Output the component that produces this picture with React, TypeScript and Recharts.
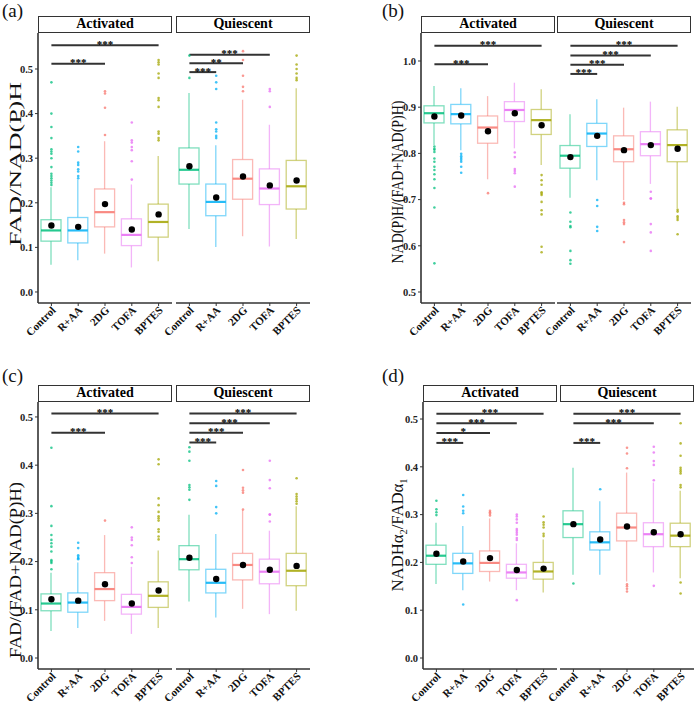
import React from 'react';
import { ComposedChart, Bar, Scatter, XAxis, YAxis, ReferenceLine } from 'recharts';

const FONT = '"Liberation Serif", "Times New Roman", serif';
const AX = '#333';

const groups = ['Control', 'R+AA', '2DG', 'TOFA', 'BPTES'];
const colors = ['#00BF7D', '#00B0F6', '#F8766D', '#E76BF3', '#A3A500'];

// box rows per group: [lower whisker, q1, median, q3, upper whisker, mean]
// (a) FAD/NAD(P)H
const aActBox = [
  [0.061, 0.114, 0.138, 0.162, 0.235, 0.149],
  [0.071, 0.11, 0.138, 0.167, 0.252, 0.146],
  [0.086, 0.146, 0.179, 0.231, 0.338, 0.197],
  [0.055, 0.104, 0.128, 0.164, 0.241, 0.14],
  [0.069, 0.123, 0.157, 0.197, 0.305, 0.174],
];
const aActOut = [
  [0.24, 0.245, 0.25, 0.255, 0.26, 0.265, 0.28, 0.3, 0.31, 0.315, 0.32, 0.345, 0.37, 0.4, 0.47],
  [0.255, 0.26, 0.27, 0.275, 0.285, 0.29, 0.315, 0.325],
  [0.352, 0.413, 0.445, 0.45],
  [0.252, 0.293, 0.318, 0.325, 0.335, 0.34, 0.38],
  [0.34, 0.345, 0.355, 0.36, 0.415, 0.43, 0.435, 0.48, 0.49, 0.51, 0.515, 0.52],
];
const aActSig = [['BPTES', 0.553, '***'], ['2DG', 0.512, '***']];

const aQuiBox = [
  [0.141, 0.242, 0.274, 0.323, 0.446, 0.282],
  [0.101, 0.171, 0.202, 0.242, 0.329, 0.212],
  [0.125, 0.208, 0.254, 0.297, 0.431, 0.259],
  [0.102, 0.196, 0.232, 0.276, 0.375, 0.239],
  [0.119, 0.186, 0.237, 0.295, 0.457, 0.25],
];
const aQuiOut = [
  [0.48, 0.53],
  [0.345, 0.35, 0.36, 0.365, 0.38, 0.455, 0.47, 0.485],
  [0.45, 0.46, 0.485, 0.52, 0.54],
  [0.415, 0.45, 0.455],
  [0.475, 0.48, 0.49, 0.5, 0.51, 0.53],
];
const aQuiSig = [['TOFA', 0.532, '***'], ['2DG', 0.513, '**'], ['R+AA', 0.493, '***']];

// (b) NAD(P)H/(FAD+NAD(P)H)
const bActBox = [
  [0.818, 0.866, 0.887, 0.903, 0.946, 0.88],
  [0.807, 0.864, 0.885, 0.906, 0.941, 0.882],
  [0.744, 0.822, 0.856, 0.881, 0.924, 0.848],
  [0.811, 0.869, 0.894, 0.912, 0.953, 0.887],
  [0.775, 0.841, 0.872, 0.895, 0.939, 0.861],
];
const bActOut = [
  [0.815, 0.81, 0.808, 0.803, 0.789, 0.782, 0.771, 0.764, 0.755, 0.744, 0.725, 0.683, 0.562],
  [0.799, 0.794, 0.79, 0.786, 0.782, 0.771, 0.758],
  [0.714],
  [0.802, 0.792, 0.766, 0.762, 0.757, 0.728],
  [0.753, 0.742, 0.732, 0.716, 0.713, 0.71, 0.695, 0.677, 0.668, 0.598, 0.586],
];
const bActSig = [['BPTES', 1.033, '***'], ['2DG', 0.993, '***']];

const bQuiBox = [
  [0.704, 0.768, 0.795, 0.817, 0.885, 0.792],
  [0.742, 0.815, 0.843, 0.865, 0.917, 0.838],
  [0.699, 0.782, 0.809, 0.838, 0.899, 0.807],
  [0.734, 0.795, 0.82, 0.847, 0.912, 0.818],
  [0.681, 0.782, 0.818, 0.851, 0.901, 0.81],
];
const bQuiOut = [
  [0.672, 0.652, 0.643, 0.64, 0.589, 0.569, 0.561],
  [0.699, 0.686, 0.641, 0.632],
  [0.693, 0.69, 0.656, 0.651, 0.647, 0.608],
  [0.717, 0.703, 0.702, 0.647, 0.629, 0.589],
  [0.678, 0.674, 0.664, 0.66, 0.656, 0.625],
];
const bQuiSig = [['BPTES', 1.033, '***'], ['TOFA', 1.012, '***'], ['2DG', 0.992, '***'], ['R+AA', 0.972, '***']];

// (c) FAD/(FAD+NAD(P)H)
const cActBox = [
  [0.056, 0.098, 0.113, 0.133, 0.177, 0.122],
  [0.062, 0.095, 0.115, 0.135, 0.198, 0.119],
  [0.077, 0.119, 0.143, 0.177, 0.255, 0.153],
  [0.05, 0.091, 0.106, 0.132, 0.189, 0.113],
  [0.062, 0.105, 0.129, 0.158, 0.223, 0.14],
];
const cActOut = [
  [0.184, 0.197, 0.2, 0.203, 0.221, 0.231, 0.238, 0.245, 0.255, 0.274, 0.315, 0.436],
  [0.205, 0.207, 0.21, 0.213, 0.228, 0.239],
  [0.285],
  [0.197, 0.209, 0.234, 0.245, 0.25, 0.271],
  [0.246, 0.252, 0.262, 0.267, 0.285, 0.29, 0.294, 0.303, 0.317, 0.331, 0.402, 0.412],
];
const cActSig = [['BPTES', 0.507, '***'], ['2DG', 0.467, '***']];

const cQuiBox = [
  [0.117, 0.183, 0.205, 0.233, 0.297, 0.208],
  [0.084, 0.135, 0.156, 0.184, 0.257, 0.164],
  [0.102, 0.162, 0.193, 0.217, 0.307, 0.193],
  [0.091, 0.154, 0.179, 0.205, 0.264, 0.183],
  [0.098, 0.15, 0.181, 0.217, 0.315, 0.191],
];
const cQuiOut = [
  [0.328, 0.349, 0.354, 0.359, 0.409, 0.428, 0.437],
  [0.3, 0.313, 0.357, 0.367],
  [0.308, 0.343, 0.348, 0.353, 0.39],
  [0.283, 0.297, 0.298, 0.352, 0.369, 0.409],
  [0.32, 0.325, 0.33, 0.335, 0.34, 0.373],
];
const cQuiSig = [['BPTES', 0.507, '***'], ['TOFA', 0.487, '***'], ['2DG', 0.467, '***'], ['R+AA', 0.447, '***']];

// (d) NADH a2 / FAD a1
const dActBox = [
  [0.155, 0.196, 0.214, 0.236, 0.283, 0.218],
  [0.142, 0.177, 0.198, 0.219, 0.276, 0.202],
  [0.16, 0.181, 0.199, 0.224, 0.292, 0.209],
  [0.142, 0.167, 0.179, 0.196, 0.24, 0.184],
  [0.137, 0.165, 0.181, 0.2, 0.248, 0.187],
];
const dActOut = [
  [0.299, 0.305, 0.311, 0.329],
  [0.112, 0.303, 0.308, 0.317, 0.341],
  [0.298, 0.302, 0.305, 0.308],
  [0.121, 0.247, 0.251, 0.258, 0.262, 0.266, 0.27, 0.283, 0.29, 0.296, 0.3],
  [0.255, 0.26, 0.273, 0.279, 0.284, 0.296],
];
const dActSig = [['BPTES', 0.511, '***'], ['TOFA', 0.491, '***'], ['2DG', 0.471, '*'], ['R+AA', 0.45, '***']];

const dQuiBox = [
  [0.174, 0.252, 0.28, 0.308, 0.398, 0.28],
  [0.174, 0.226, 0.242, 0.264, 0.328, 0.248],
  [0.16, 0.245, 0.273, 0.303, 0.388, 0.275],
  [0.179, 0.233, 0.259, 0.283, 0.367, 0.263],
  [0.167, 0.233, 0.256, 0.282, 0.35, 0.259],
];
const dQuiOut = [
  [0.156],
  [0.353],
  [0.397, 0.428, 0.44, 0.154, 0.15, 0.145, 0.139],
  [0.372, 0.404, 0.412, 0.43, 0.442, 0.151],
  [0.357, 0.362, 0.386, 0.39, 0.394, 0.398, 0.423, 0.449, 0.491, 0.158, 0.135],
];
const dQuiSig = [['BPTES', 0.511, '***'], ['TOFA', 0.491, '***'], ['R+AA', 0.45, '***']];

const ticksFrac = [0, 0.1, 0.2, 0.3, 0.4, 0.5];
const ticksB = [0.5, 0.6, 0.7, 0.8, 0.9, 1.0];

const PAD = 30;
const YW = 40;
const XH = 40;

const BoxShape = (props: any) => {
  const { x, y, width, height, payload } = props;
  if (x == null || y == null) return null;
  const top = Math.min(y, y + height);
  const bot = Math.max(y, y + height);
  const span = payload.hi - payload.lo;
  const py = (v: number) => bot - ((v - payload.lo) / span) * (bot - top);
  const cx = x + width / 2;
  const c = payload.color;
  return (
    <g>
      <line x1={cx} x2={cx} y1={py(payload.hi)} y2={py(payload.q3)} stroke={c} strokeOpacity={0.5} strokeWidth={1.3} />
      <line x1={cx} x2={cx} y1={py(payload.q1)} y2={py(payload.lo)} stroke={c} strokeOpacity={0.5} strokeWidth={1.3} />
      <rect x={x} y={py(payload.q3)} width={width} height={py(payload.q1) - py(payload.q3)} fill="#fff" stroke={c} strokeOpacity={0.5} strokeWidth={1.3} />
      <line x1={x} x2={x + width} y1={py(payload.med)} y2={py(payload.med)} stroke={c} strokeOpacity={0.85} strokeWidth={2.2} />
    </g>
  );
};

const OutShape = (props: any) => (
  <circle cx={props.cx} cy={props.cy} r={1.3} fill={props.payload.color} fillOpacity={0.75} />
);

const MeanShape = (props: any) => <circle cx={props.cx} cy={props.cy} r={3.2} fill="#000" />;

const XTick = (p: any) => (
  <g transform={`translate(${p.x + 5},${p.y + 3})`}>
    <text textAnchor="end" transform="rotate(-45)" fontSize={11} fontWeight="bold" fontFamily={FONT} fill="#111">
      {p.payload.value}
    </text>
  </g>
);

const starLabel = (s: string) => (lp: any) => {
  const vb = lp.viewBox || {};
  return (
    <text x={vb.x + vb.width / 2} y={vb.y + 2.5} textAnchor="middle" fontSize={11} fontWeight="bold" fontFamily={FONT} fill="#000">
      {s}
    </text>
  );
};

function Facet({ box, out, sig, domain, ticks, showY, left, top, plotH, w }: any) {
  const rows = groups.map((g, i) => ({
    group: g,
    lo: box[i][0],
    q1: box[i][1],
    med: box[i][2],
    q3: box[i][3],
    hi: box[i][4],
    mean: box[i][5],
    color: colors[i],
  }));
  const pts = out.flatMap((vals: number[], i: number) =>
    vals.map((v) => ({ group: groups[i], v, color: colors[i] }))
  );
  const yW = showY ? YW : 0;
  return (
    <div style={{ position: 'absolute', left: left - PAD - yW, top }}>
      <ComposedChart
        width={PAD + yW + w}
        height={plotH + XH}
        data={rows}
        margin={{ top: 0, right: 0, bottom: 0, left: PAD }}
      >
        <XAxis
          dataKey="group"
          type="category"
          allowDuplicatedCategory={false}
          interval={0}
          height={XH}
          tick={<XTick />}
          tickSize={3}
          axisLine={{ stroke: AX, strokeWidth: 1.6 }}
          tickLine={{ stroke: AX }}
        />
        <YAxis
          type="number"
          domain={domain}
          ticks={ticks}
          allowDataOverflow
          hide={!showY}
          width={YW}
          tickSize={3}
          tickMargin={2}
          tickFormatter={(v: number) => v.toFixed(1)}
          tick={{ fontSize: 10.5, fontWeight: 'bold', fill: '#222', fontFamily: FONT }}
          axisLine={{ stroke: AX, strokeWidth: 1.6 }}
          tickLine={{ stroke: AX }}
        />
        <Bar dataKey={(d: any) => [d.lo, d.hi]} barSize={20} shape={BoxShape} isAnimationActive={false} />
        <Scatter data={pts} dataKey="v" shape={OutShape} isAnimationActive={false} />
        <Scatter dataKey="mean" shape={MeanShape} isAnimationActive={false} />
        {sig.map(([g, y, s]: any) => (
          <ReferenceLine
            key={g}
            segment={[{ x: 'Control', y }, { x: g, y }]}
            stroke={AX}
            strokeWidth={2}
            ifOverflow="visible"
            label={starLabel(s)}
          />
        ))}
      </ComposedChart>
    </div>
  );
}

const Strip = ({ left, top, w, text }: any) => (
  <div
    style={{
      position: 'absolute',
      left,
      top,
      width: w,
      height: 17,
      boxSizing: 'border-box',
      border: `1.5px solid ${AX}`,
      background: '#fff',
      fontFamily: FONT,
      fontWeight: 'bold',
      fontSize: 14,
      lineHeight: '14px',
      textAlign: 'center',
    }}
  >
    {text}
  </div>
);

const panels = [
  { act: [aActBox, aActOut, aActSig], qui: [aQuiBox, aQuiOut, aQuiSig], left: 38, top: 33, plotH: 270, gap: 4, domain: [-0.0247, 0.5807], ticks: ticksFrac },
  { act: [bActBox, bActOut, bActSig], qui: [bQuiBox, bQuiOut, bQuiSig], left: 421, top: 33, plotH: 270, gap: 2, domain: [0.4762, 1.0606], ticks: ticksB },
  { act: [cActBox, cActOut, cActSig], qui: [cQuiBox, cQuiOut, cQuiSig], left: 38, top: 402, plotH: 267, gap: 4, domain: [-0.0228, 0.531], ticks: ticksFrac },
  { act: [dActBox, dActOut, dActSig], qui: [dQuiBox, dQuiOut, dQuiSig], left: 423, top: 402, plotH: 267, gap: 3, domain: [-0.023, 0.5356], ticks: ticksFrac },
];

const W = 134;

export default function App() {
  return (
    <div style={{ position: 'absolute', left: 0, top: 0, width: 698, height: 704, background: '#fff', overflow: 'hidden' }}>
      {panels.map((p, i) => (
        <React.Fragment key={i}>
          <Facet box={p.act[0]} out={p.act[1]} sig={p.act[2]} domain={p.domain} ticks={p.ticks} showY left={p.left} top={p.top} plotH={p.plotH} w={W} />
          <Facet box={p.qui[0]} out={p.qui[1]} sig={p.qui[2]} domain={p.domain} ticks={p.ticks} showY={false} left={p.left + W + p.gap} top={p.top} plotH={p.plotH} w={W} />
          <Strip left={p.left} top={p.top - 17} w={W} text="Activated" />
          <Strip left={p.left + W + p.gap} top={p.top - 17} w={W} text="Quiescent" />
        </React.Fragment>
      ))}
      <svg width={698} height={704} style={{ position: 'absolute', left: 0, top: 0, pointerEvents: 'none' }}>
        <g fontFamily={FONT} fill="#111">
          <text x={2} y={17} fontSize={19}>(a)</text>
          <text x={382} y={17} fontSize={19}>(b)</text>
          <text x={2} y={382} fontSize={19}>(c)</text>
          <text x={382} y={382} fontSize={19}>(d)</text>
          <text transform="translate(21,164) rotate(-90)" textAnchor="middle" fontSize={16} textLength={164} lengthAdjust="spacingAndGlyphs">FAD/NAD(P)H</text>
          <text transform="translate(403,182) rotate(-90)" textAnchor="middle" fontSize={16} textLength={163} lengthAdjust="spacingAndGlyphs">NAD(P)H/(FAD+NAD(P)H)</text>
          <text transform="translate(21,570) rotate(-90)" textAnchor="middle" fontSize={16} textLength={176} lengthAdjust="spacingAndGlyphs">FAD/(FAD+NAD(P)H)</text>
          <text transform="translate(403,535) rotate(-90)" textAnchor="middle" fontSize={16} textLength={113} lengthAdjust="spacingAndGlyphs">
            NADHα<tspan fontSize={10} dy={4}>2</tspan><tspan dy={-4}>/FADα</tspan><tspan fontSize={10} dy={4}>1</tspan>
          </text>
        </g>
      </svg>
    </div>
  );
}
